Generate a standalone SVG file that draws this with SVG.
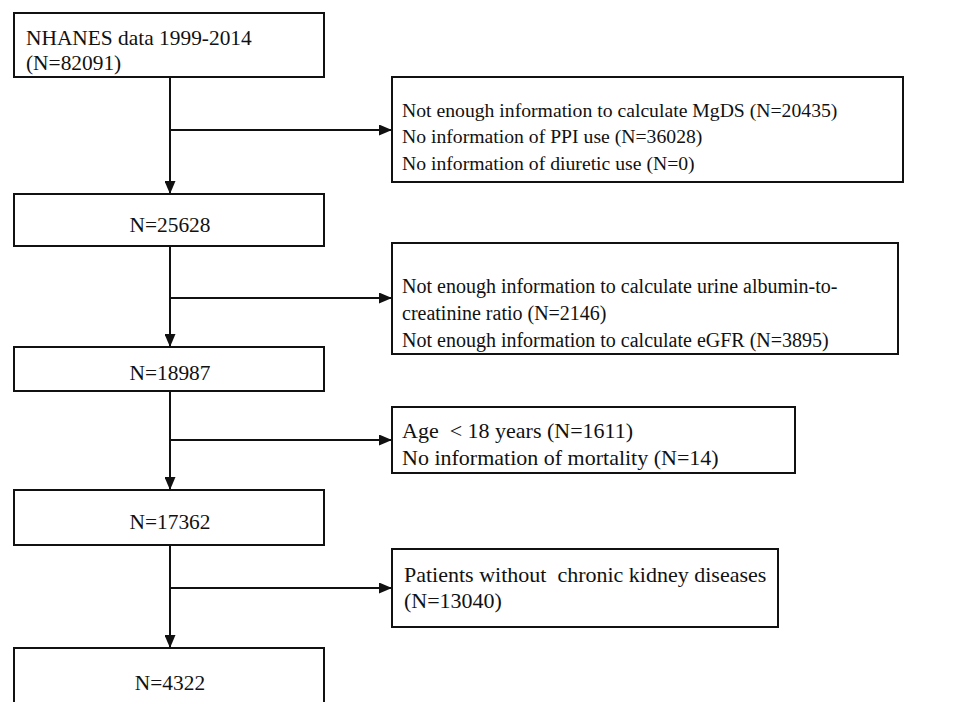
<svg xmlns="http://www.w3.org/2000/svg" width="959" height="702" viewBox="0 0 959 702">
<defs>
<style>
.box{fill:#fff;stroke:#111;stroke-width:2}
.t{font-family:"Liberation Serif","Times New Roman",serif;font-size:21.4px;fill:#111}
.s1{font-size:19.7px}
.s2{font-size:20px}
.s3{font-size:22px}
.c{text-anchor:middle}
.ln{stroke:#111;stroke-width:2;fill:none}
</style>
<marker id="ah" viewBox="0 0 13 11" refX="13" refY="5.5" markerWidth="13" markerHeight="11" markerUnits="userSpaceOnUse" orient="auto">
<path d="M0,0 L13,5.5 L0,11 Z" fill="#111"/>
</marker>
</defs>
<rect width="959" height="702" fill="#fff"/>
<g id="connectors">
<line class="ln" x1="170" y1="77" x2="170" y2="194" marker-end="url(#ah)"/>
<line class="ln" x1="170" y1="130" x2="392" y2="130" marker-end="url(#ah)"/>
<line class="ln" x1="170" y1="246" x2="170" y2="347" marker-end="url(#ah)"/>
<line class="ln" x1="170" y1="298" x2="392" y2="298" marker-end="url(#ah)"/>
<line class="ln" x1="170" y1="391" x2="170" y2="490" marker-end="url(#ah)"/>
<line class="ln" x1="170" y1="440" x2="392" y2="440" marker-end="url(#ah)"/>
<line class="ln" x1="170" y1="545" x2="170" y2="648" marker-end="url(#ah)"/>
<line class="ln" x1="170" y1="588" x2="392" y2="588" marker-end="url(#ah)"/>
</g>
<g id="n1">
<rect class="box" x="14" y="13" width="310" height="64"/>
<text class="t" x="26" y="45">NHANES data 1999-2014</text>
<text class="t" x="26" y="70">(N=82091)</text>
</g>
<g id="e1">
<rect class="box" x="392" y="77" width="511" height="105"/>
<text class="t s1" x="402" y="117">Not enough information to calculate MgDS (N=20435)</text>
<text class="t s1" x="402" y="143">No information of PPI use (N=36028)</text>
<text class="t s1" x="402" y="170">No information of diuretic use (N=0)</text>
</g>
<g id="n2">
<rect class="box" x="14" y="194" width="310" height="52"/>
<text class="t c" x="170" y="232">N=25628</text>
</g>
<g id="e2">
<rect class="box" x="392" y="243" width="506" height="111"/>
<text class="t s2" x="402" y="293">Not enough information to calculate urine albumin-to-</text>
<text class="t s2" x="402" y="320">creatinine ratio (N=2146)</text>
<text class="t s2" x="402" y="347">Not enough information to calculate eGFR (N=3895)</text>
</g>
<g id="n3">
<rect class="box" x="14" y="347" width="310" height="44"/>
<text class="t c" x="170" y="380">N=18987</text>
</g>
<g id="e3">
<rect class="box" x="392" y="407" width="403" height="66"/>
<text class="t s3" x="402" y="438" xml:space="preserve">Age  &lt; 18 years (N=1611)</text>
<text class="t s3" x="402" y="465">No information of mortality (N=14)</text>
</g>
<g id="n4">
<rect class="box" x="14" y="490" width="310" height="55"/>
<text class="t c" x="170" y="529">N=17362</text>
</g>
<g id="e4">
<rect class="box" x="392" y="549" width="386" height="78"/>
<text class="t s3" x="404" y="582" xml:space="preserve">Patients without  chronic kidney diseases</text>
<text class="t s3" x="404" y="608">(N=13040)</text>
</g>
<g id="n5">
<rect class="box" x="14" y="648" width="310" height="60"/>
<text class="t c" x="170" y="690">N=4322</text>
</g>
</svg>
